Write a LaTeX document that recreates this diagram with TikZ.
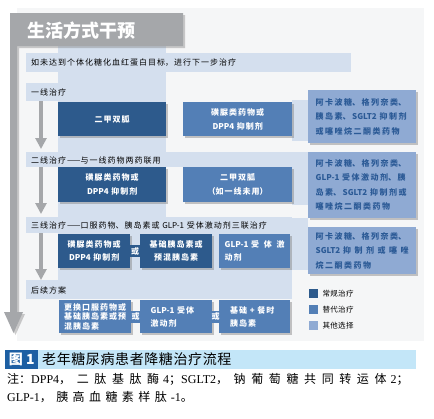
\documentclass[tikz,border=0pt]{standalone}
\usepackage{fontspec}
\setmainfont{Noto Sans CJK SC}
\newfontfamily\lserif{Liberation Serif}
\usetikzlibrary{arrows.meta,shadows}
\XeTeXlinebreaklocale "zh"
\XeTeXlinebreakskip=1pt
\protected\def\gapA{\XeTeXlinebreakskip=1pt\relax}
\protected\def\gapR{\XeTeXlinebreakskip=1.5pt\relax}
\protected\def\gapL{\XeTeXlinebreakskip=0.3pt\relax}
\protected\def\gapC{\XeTeXlinebreakskip=0.6pt\relax}
\protected\def\gapN{\XeTeXlinebreakskip=0pt plus 1fil\relax}
\protected\def\justline{\rightskip=0pt\leftskip=0pt\parfillskip=0pt\XeTeXlinebreakskip=1pt plus 3pt\relax}
\definecolor{cdark}{HTML}{2D5A8C}
\definecolor{cmed}{HTML}{537FB6}
\definecolor{clight}{HTML}{8FAAD3}
\definecolor{ctext}{HTML}{2B5A96}
\definecolor{cband}{HTML}{D4DFEE}
\definecolor{cgray}{HTML}{A5A7AA}
\definecolor{cpanel}{HTML}{F5F6F7}
\definecolor{ccap}{HTML}{1D5FA3}
\definecolor{ccapband}{HTML}{C3E6F8}
\begin{document}
\begin{tikzpicture}[x=1pt,y=-1pt,
  box/.style={inner sep=0pt, text=white, font=\bfseries\fontsize{8}{14}\selectfont\gapA, align=center, anchor=north west,
    drop shadow={shadow xshift=1.6pt, shadow yshift=-1.6pt, opacity=0.45}},
  dbox/.style={box, fill=cdark},
  mbox/.style={box, fill=cmed},
  rbox/.style={box, fill=clight, text=ctext, align=left, text width=93pt, font=\bfseries\fontsize{8}{14.5}\selectfont\gapR},
  conn/.style={inner sep=0pt, minimum width=10pt, minimum height=12pt, text=white, font=\bfseries\fontsize{8}{8}\selectfont},
  lbl/.style={inner sep=0pt, anchor=west, align=left, text width=300pt, font=\fontsize{8}{10}\selectfont\gapA},
  band/.style={fill=cband},
  garrow/.style={draw=cgray, line width=4pt, -{Triangle[length=11pt,width=11pt]}},
  legsq/.style={inner sep=0pt, minimum size=9pt, anchor=north west},
  legtxt/.style={inner sep=0pt, anchor=west, align=left, text width=40pt, font=\fontsize{7.5}{9}\selectfont\gapL}
]
\useasboundingbox (0,0) rectangle (434,418);
\fill[white] (0,0) rectangle (434,418);
\fill[cpanel] (17,8) rectangle (424,341);

% light blue bands
\fill[band] (26,53) rectangle (351,72);
\fill[band] (58,46) rectangle (166,217);
\fill[band] (26,83) rectangle (166,101);
\fill[band] (292,100) rectangle (308,141);
\fill[band] (26,152) rectangle (292,167);
\fill[band] (292,152) rectangle (308,205);
\fill[band] (26,217) rectangle (292,233);
\fill[band] (58,217) rectangle (292,280);
\fill[band] (290,218) rectangle (308,270);
\fill[band] (26,280) rectangle (292,299);

% gray L-shaped header and big arrow
\fill[cgray, drop shadow={shadow xshift=2pt, shadow yshift=-2pt, opacity=0.4}]
  (10,13) -- (183,13) -- (183,46) -- (17,46) -- (17,312) -- (23,312) -- (13.5,333) -- (4,312) -- (10,312) -- cycle;
\node[inner sep=0pt, anchor=west, text=white, font=\bfseries\fontsize{18}{18}\selectfont] (hdr) at (27,31) {生活方式干预};

% labels
\node[lbl] (l0) at (31,62.5) {如未达到个体化糖化血红蛋白目标，进行下一步治疗};
\node[lbl] (l1) at (31,92) {一线治疗};
\node[lbl] (l2) at (31,160) {二线治疗——与一线药物两药联用};
\node[lbl] (l3) at (31,225) {三线治疗——口服药物、胰岛素或 GLP-1 受体激动剂三联治疗};
\node[lbl] (l4) at (31,290) {后续方案};

% small arrows
\coordinate (a1s) at (41,101); \coordinate (a1e) at (41,149);
\coordinate (a2s) at (41,167); \coordinate (a2e) at (41,214);
\coordinate (a3s) at (41,233); \coordinate (a3e) at (41,280);
\draw[garrow] (a1s) -- (a1e);
\draw[garrow] (a2s) -- (a2e);
\draw[garrow] (a3s) -- (a3e);

% row 1
\node[dbox, text width=108pt, minimum height=34pt] (b11) at (58,102) {二甲双胍};
\node[mbox, text width=109pt, minimum height=34pt] (b12) at (183,102) {磺脲类药物或\\DPP4 抑制剂};
% row 2
\node[dbox, text width=108pt, minimum height=35pt] (b21) at (58,167) {磺脲类药物或\\DPP4 抑制剂};
\node[mbox, text width=109pt, minimum height=35pt] (b22) at (183,167) {二甲双胍\\（如一线未用）};
% row 3
\node[dbox, text width=72pt, minimum height=34pt, font=\bfseries\fontsize{8}{13}\selectfont\gapA] (b31) at (58,234) {磺脲类药物或\\DPP4 抑制剂};
\node[dbox, text width=72pt, minimum height=34pt, font=\bfseries\fontsize{8}{13}\selectfont\gapA] (b32) at (140,234) {基础胰岛素或\\预混胰岛素};
\node[mbox, text width=60pt, minimum width=71pt, minimum height=34pt, align=left, font=\bfseries\fontsize{8}{13}\selectfont\gapA] (b33) at (219,234) {{\justline GLP-1 受体激\par}动剂};
\path (b31.east) -- (b32.west) node[conn, fill=cdark, midway] (c31) {或};
% row 4
\node[mbox, text width=62pt, minimum width=72pt, minimum height=33pt, align=left, font=\bfseries\fontsize{8}{9.5}\selectfont\gapA] (b41) at (59,300) {更换口服药物或\\基础胰岛素或预\\混胰岛素};
\node[mbox, text width=51pt, minimum width=72pt, minimum height=33pt, align=left, font=\bfseries\fontsize{8}{13}\selectfont\gapA] (b42) at (140,300) {GLP-1 受体\\激动剂};
\node[mbox, text width=49pt, minimum width=71pt, minimum height=33pt, align=left, font=\bfseries\fontsize{8}{13}\selectfont\gapA] (b43) at (219,300) {基础 + 餐时\\胰岛素};
\path (b41.east) -- (b42.west) node[conn, fill=cmed, midway] (c41) {或};
\path (b42.east) -- (b43.west) node[conn, fill=cmed, midway] (c42) {或};

% right boxes
\node[rbox, minimum width=108pt, minimum height=53pt] (r1) at (308,90) {阿卡波糖、格列奈类、\\胰岛素、SGLT2 抑制剂\\或噻唑烷二酮类药物};
\node[rbox, minimum width=108pt, minimum height=66pt] (r2) at (308,152) {阿卡波糖、格列奈类、\\GLP-1 受体激动剂、胰\\岛素、SGLT2 抑制剂或\\噻唑烷二酮类药物};
\node[rbox, minimum width=108pt, minimum height=47pt] (r3) at (308,227) {阿卡波糖、格列奈类、\par{\justline SGLT2 抑制剂或噻唑\par}烷二酮类药物};

% legend
\node[legsq, fill=cdark] (g1) at (309,289) {};
\node[legsq, fill=cmed] (g2) at (309,305) {};
\node[legsq, fill=clight] (g3) at (309,321) {};
\node[legtxt] (t1) at ([xshift=4pt]g1.east) {常规治疗};
\node[legtxt] (t2) at ([xshift=4pt]g2.east) {替代治疗};
\node[legtxt] (t3) at ([xshift=4pt]g3.east) {其他选择};

% caption
\fill[ccapband] (38,350) rectangle (416,369);
\node[inner sep=0pt, anchor=north west, fill=ccap, minimum width=33pt, minimum height=18.5pt, text=white, font=\bfseries\fontsize{14}{14}\selectfont] (fig) at (5,350) {图 1};
\node[inner sep=0pt, anchor=west, align=left, text width=250pt, font=\fontsize{14}{14}\selectfont\gapC] (cap) at (42,359.5) {老年糖尿病患者降糖治疗流程};
\node[inner sep=0pt, anchor=west, text width=407pt, font=\fontsize{12}{12}\selectfont\gapN] (n1) at (7,379) {\justline\gapN 注：{\lserif DPP4}，二肽基肽酶 {\lserif 4}；{\lserif SGLT2}，钠葡萄糖共同转运体 {\lserif 2}；};
\node[inner sep=0pt, anchor=west, text width=190pt, font=\fontsize{12}{12}\selectfont\gapN] (n2) at (7,397) {\justline\gapN {\lserif GLP-1}，胰高血糖素样肽 {\lserif -1}。};
\end{tikzpicture}
\end{document}
